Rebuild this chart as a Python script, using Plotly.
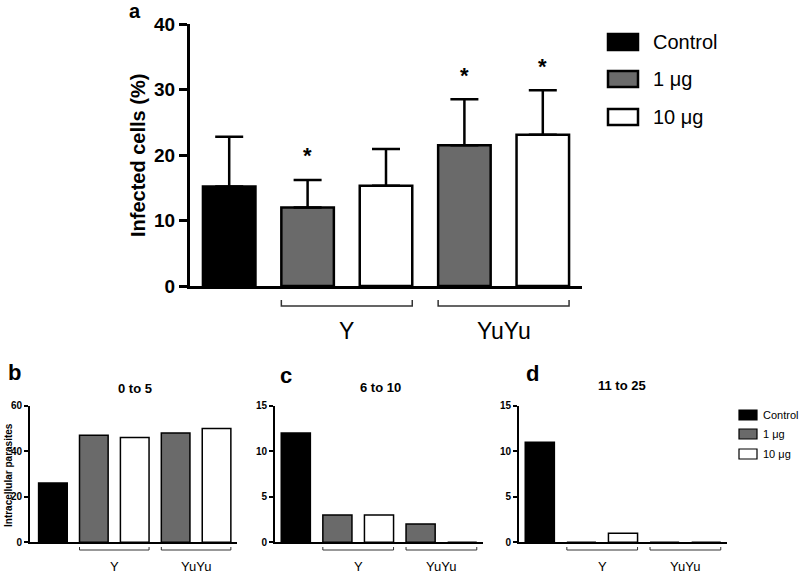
import plotly.graph_objects as go

# Data
doses = ["Control", "1 μg", "10 μg"]
dose_of_bar = ["Control", "1 μg", "10 μg", "1 μg", "10 μg"]
group_names = ["Y", "YuYu"]
dose_colors = {"Control": "#000000", "1 μg": "#6a6a6a", "10 μg": "#ffffff"}

infected = [15.2, 12.0, 15.3, 21.5, 23.1]
infected_sd = [7.6, 4.2, 5.6, 7.0, 6.8]
significant = [False, True, False, True, True]

parasites_0_5 = [26, 47, 46, 48, 50]
parasites_6_10 = [12, 3, 3, 2, 0]
parasites_11_25 = [11, 0, 1, 0, 0]

FONT = "Liberation Sans, Arial, Helvetica, sans-serif"
W, H = 800, 573


def px(x):
    return x / W


def py(y):
    return 1 - y / H


fig = go.Figure()


def add_bars(values, xa, ya, width, line_w, err=None, err_w=2.5):
    for d in doses:
        idx = [i for i, dd in enumerate(dose_of_bar) if dd == d]
        kw = {}
        if err is not None:
            kw["error_y"] = dict(type="data", symmetric=False,
                                 array=[err[i] for i in idx],
                                 arrayminus=[0] * len(idx),
                                 color="black", thickness=err_w, width=14)
        fig.add_trace(go.Bar(
            x=idx, y=[values[i] for i in idx], width=width,
            marker=dict(color=dose_colors[d], line=dict(color="black", width=line_w)),
            xaxis=xa, yaxis=ya, showlegend=False, name=d, **kw))


add_bars(infected, "x", "y", 0.67, 2.5, err=infected_sd, err_w=2.5)
add_bars(parasites_0_5, "x2", "y2", 0.7, 1.5)
add_bars(parasites_6_10, "x3", "y3", 0.7, 1.5)
add_bars(parasites_11_25, "x4", "y4", 0.7, 1.5)


def xax(dom, rng, lw):
    return dict(domain=dom, range=rng, showline=True, linewidth=lw, linecolor="black",
                showticklabels=False, ticks="", showgrid=False, zeroline=False,
                fixedrange=True, automargin=False)


def yax(anchor, dom, rng, dtick, lw, tlen, tw, fsize):
    return dict(anchor=anchor, domain=dom, range=rng, dtick=dtick, showline=True,
                linewidth=lw, linecolor="black", ticks="outside", ticklen=tlen,
                tickwidth=tw, tickcolor="black", showgrid=False, zeroline=False,
                automargin=False, fixedrange=True,
                tickfont=dict(family=FONT, size=fsize, color="black", weight="bold"))


small_y = [py(542.3), py(405.7)]
fig.update_layout(
    width=W, height=H, margin=dict(l=0, r=0, t=0, b=0, autoexpand=False),
    paper_bgcolor="white", plot_bgcolor="white", barmode="overlay",
    xaxis=dict(anchor="y", **xax([px(190), px(582)], [-0.5, 4.5], 3)),
    yaxis=yax("x", [py(286), py(24)], [0, 40], 10, 3, 8, 3, 19),
    xaxis2=dict(anchor="y2", **xax([px(30), px(237)], [-0.56, 4.5], 2)),
    yaxis2=yax("x2", small_y, [0, 60], 20, 2, 4, 1.5, 10),
    xaxis3=dict(anchor="y3", **xax([px(275), px(483)], [-0.5, 4.5], 2)),
    yaxis3=yax("x3", small_y, [0, 15], 5, 2, 4, 1.5, 10),
    xaxis4=dict(anchor="y4", **xax([px(519), px(727)], [-0.5, 4.5], 2)),
    yaxis4=yax("x4", small_y, [0, 15], 5, 2, 4, 1.5, 10),
    font=dict(family=FONT, color="black"),
)

ann = []
shapes = []


def text(x, y, s, size, bold=False, xref="paper", yref="paper", xanchor="center",
         yanchor="middle", angle=0, yshift=0):
    ann.append(dict(x=x, y=y, xref=xref, yref=yref, text=s, showarrow=False,
                    xanchor=xanchor, yanchor=yanchor, textangle=angle, yshift=yshift,
                    font=dict(family=FONT, size=size, color="black",
                              weight="bold" if bold else "normal")))


# significance stars on panel a
for i, sig in enumerate(significant):
    if sig:
        text(i, infected[i] + infected_sd[i], "*", 22, bold=True, xref="x", yref="y", yshift=24)


# group brackets + labels
def brackets(xa, half, y_line, tick, lw, y_label, fsize):
    for g, (a, b) in zip(group_names, [(1, 2), (3, 4)]):
        x0, x1 = a - half, b + half
        shapes.append(dict(type="path", xref=xa, yref="paper",
                           path=f"M {x0},{py(y_line - tick)} L {x0},{py(y_line)} L {x1},{py(y_line)} L {x1},{py(y_line - tick)}",
                           line=dict(color="#333333", width=lw)))
        text((a + b) / 2, py(y_label), g, fsize, xref=xa)


brackets("x", 0.335, 306, 6, 1.5, 331, 23)
brackets("x2", 0.35, 550, 3, 1, 566, 13)
brackets("x3", 0.35, 550, 3, 1, 566, 13)
brackets("x4", 0.35, 550, 3, 1, 566, 13)

# axis titles
text(px(138), py(156), "Infected cells (%)", 20, bold=True, angle=-90)
text(px(8), py(475), "Intracellular parasites", 10, bold=True, angle=-90)

# panel letters and titles
text(px(135), py(11), "a", 20, bold=True)
text(px(14), py(372), "b", 22, bold=True)
text(px(286), py(375), "c", 22, bold=True)
text(px(532), py(373), "d", 22, bold=True)
text(px(135), py(388), "0 to 5", 13, bold=True)
text(px(380), py(387), "6 to 10", 13, bold=True)
text(px(622), py(385), "11 to 25", 13, bold=True)


# legends
def legend(x0, x1, h, rows, tx, fsize, lw):
    for d, yc in zip(doses, rows):
        shapes.append(dict(type="rect", xref="paper", yref="paper",
                           x0=px(x0), x1=px(x1), y0=py(yc + h / 2), y1=py(yc - h / 2),
                           fillcolor=dose_colors[d], line=dict(color="black", width=lw)))
        text(px(tx), py(yc), d, fsize, xanchor="left")


legend(608, 638, 16, [42, 79, 117], 651, 20, 2.5)
legend(739, 757, 10, [415, 434, 454], 761, 11, 1.2)

fig.update_layout(annotations=ann, shapes=shapes)
# drop the default body margin so the figure sits at the page origin
fig.write_html("out.html", config={"displayModeBar": False},
               post_script="document.body.style.margin='0';")
